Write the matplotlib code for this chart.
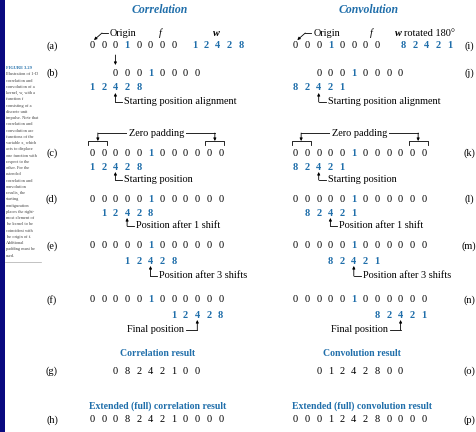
import matplotlib.pyplot as plt
from matplotlib.patches import Rectangle

# sequences shown in the figure
f = [0, 0, 0, 1, 0, 0, 0, 0]
w = [1, 2, 4, 2, 8]
w_rot = [8, 2, 4, 2, 1]
f_pad = [0, 0, 0, 0, 0, 1, 0, 0, 0, 0, 0, 0]
shifts = [0, 1, 3, 7]                # kernel offset for rows (c)-(f) / (k)-(n)
corr_result = [0, 8, 2, 4, 2, 1, 0, 0]
conv_result = [0, 1, 2, 4, 2, 8, 0, 0]
corr_full = [0, 0, 0, 8, 2, 4, 2, 1, 0, 0, 0, 0]
conv_full = [0, 0, 0, 1, 2, 4, 2, 8, 0, 0, 0, 0]
left_labels = ['(a)', '(b)', '(c)', '(d)', '(e)', '(f)', '(g)', '(h)']
right_labels = ['(i)', '(j)', '(k)', '(l)', '(m)', '(n)', '(o)', '(p)']
notes = ['Starting position', 'Position after 1 shift',
         'Position after 3 shifts', 'Final position']

caption = ['Illustration of 1-D', 'correlation and', 'convolution of a',
           'kernel, w, with a', 'function f', 'consisting of a',
           'discrete unit', 'impulse. Note that', 'correlation and',
           'convolution are', 'functions of the', 'variable x, which',
           'acts to displace', 'one function with', 'respect to the',
           'other. For the', 'extended', 'correlation and', 'convolution',
           'results, the', 'starting', 'configuration', 'places the right-',
           'most element of', 'the kernel to be', 'coincident with',
           'the origin of f.', 'Additional', 'padding must be', 'used.']

BLUE = '#1f6eaa'
NAVY = '#0a0a80'
SERIF = 'Liberation Serif'
DX = 11.7           # spacing between digits
FS = 7.5            # digit size
NS = 7.4            # note size

fig = plt.figure(figsize=(4.77, 4.32), dpi=100)
ax = fig.add_axes([0, 0, 1, 1])
ax.set_xlim(0, 477)
ax.set_ylim(432, 0)
ax.axis('off')


def seq(x0, y, vals, kind):
    for i, v in enumerate(vals):
        blue = kind == 'kernel' or (kind == 'f' and v == 1)
        ax.text(x0 + i * DX, y, str(v), ha='center', va='center',
                family=SERIF, fontsize=FS, color=BLUE if blue else 'black',
                fontweight='bold' if blue else 'normal')


def arrow(x1, y1, x2, y2):
    ax.annotate('', xy=(x2, y2), xytext=(x1, y1),
                arrowprops=dict(arrowstyle='-|>', lw=0.6, color='black',
                                mutation_scale=4, shrinkA=0, shrinkB=0))


def note(x, y_tip, y_txt, text, side='right'):
    arrow(x, y_txt, x, y_tip)
    if side == 'right':
        ax.plot([x, x + 7], [y_txt, y_txt], color='black', lw=0.6)
        ax.text(x + 9, y_txt, text, ha='left', va='center',
                family=SERIF, fontsize=NS)
    else:
        ax.plot([x - 11, x], [y_txt, y_txt], color='black', lw=0.6)
        ax.text(x - 13, y_txt, text, ha='right', va='center',
                family=SERIF, fontsize=NS)


# side caption
ax.add_patch(Rectangle((0, 0), 4.7, 432, color=NAVY, lw=0))
ax.text(6, 68, 'FIGURE 3.29', ha='left', va='center', family=SERIF,
        fontsize=3.2, color=BLUE, fontweight='bold')
for k, line in enumerate(caption):
    ax.text(6, 74.3 + k * 6.25, line, ha='left', va='center', family=SERIF,
            fontsize=3.2, color='#444444')
ax.plot([5, 41], [262, 262], color='#aaaaaa', lw=0.5)

row_y = [46, 73, 153, 199, 246, 300, 371, 420]
kern_y = [None, 88, 167, 213, 261, 315]
note_y = [180, 226, 276, 330]

for col, (x0, kx, kern, labels, lx) in enumerate(
        [(92.0, 194.5, w, left_labels, 52),
         (295.3, 403.0, w_rot, right_labels, 469)]):
    for lab, y in zip(labels, row_y):
        ax.text(lx, y, lab, ha='center', va='center', family=SERIF, fontsize=NS)

    # (a) / (i)
    seq(x0, row_y[0], f, 'f')
    seq(kx, row_y[0], kern, 'kernel')
    ox = x0 + 15
    ax.text(ox + 3, 33, 'Origin', ha='left', va='center', family=SERIF,
            fontsize=NS)
    ax.plot([ox + 1, ox - 5], [33, 33], color='black', lw=0.6)
    arrow(ox - 5, 33, x0 + 2, 40)
    ax.text(x0 + 68 + col * 8, 33, 'f', ha='center', va='center', family=SERIF,
            fontsize=NS, style='italic')
    if col == 0:
        ax.text(216, 33, 'w', ha='center', va='center', family=SERIF,
                fontsize=NS, style='italic', fontweight='bold')
    else:
        ax.text(398, 33, 'w', ha='center', va='center', family=SERIF,
                fontsize=NS, style='italic', fontweight='bold')
        ax.text(404, 33, 'rotated 180°', ha='left', va='center',
                family=SERIF, fontsize=NS)

    # (b) / (j)
    seq(x0 + 2 * DX, row_y[1], f, 'f')
    seq(x0, kern_y[1], kern, 'kernel')
    if col == 0:
        arrow(x0 + 2 * DX, 55, x0 + 2 * DX, 65)
    note(x0 + 2 * DX, kern_y[1] + 5, 102, 'Starting position alignment')

    # zero padding brackets
    xl, xr = x0 + 0.5 * DX, x0 + 10.5 * DX
    ax.plot([xl, xr], [133, 133], color='black', lw=0.6)
    ax.text((xl + xr) / 2, 133, 'Zero padding', ha='center', va='center',
            family=SERIF, fontsize=NS,
            bbox=dict(facecolor='white', edgecolor='none', pad=1.5))
    for xc in (xl, xr):
        arrow(xc, 133, xc, 141)
        ax.plot([xc - 9.5, xc - 9.5, xc + 9.5, xc + 9.5],
                [145, 141, 141, 145], color='black', lw=0.6)

    # (c)-(f) / (k)-(n)
    for r, s in enumerate(shifts):
        seq(x0, row_y[2 + r], f_pad, 'f')
        seq(x0 + s * DX, kern_y[2 + r], kern, 'kernel')
        side = 'left' if r == 3 else 'right'
        note(x0 + (s + 2) * DX, kern_y[2 + r] + 5, note_y[r], notes[r], side)

# result rows
hdr = dict(ha='center', va='center', family=SERIF, fontsize=7,
           fontweight='bold', color=BLUE)
ax.text(158, 353, 'Correlation result', **hdr)
ax.text(362, 353, 'Convolution result', **hdr)
ax.text(158, 406, 'Extended (full) correlation result', **hdr)
ax.text(362, 406, 'Extended (full) convolution result', **hdr)
seq(92.0 + 2 * DX, row_y[6], corr_result, 'plain')
seq(295.3 + 2 * DX, row_y[6], conv_result, 'plain')
seq(92.0, row_y[7], corr_full, 'plain')
seq(295.3, row_y[7], conv_full, 'plain')

# column titles
ttl = dict(ha='center', va='center', family=SERIF, fontsize=8.5,
           fontweight='bold', style='italic', color=BLUE)
ax.text(160, 10, 'Correlation', **ttl)
ax.text(369, 10, 'Convolution', **ttl)

fig.savefig('out.png', dpi=100)
